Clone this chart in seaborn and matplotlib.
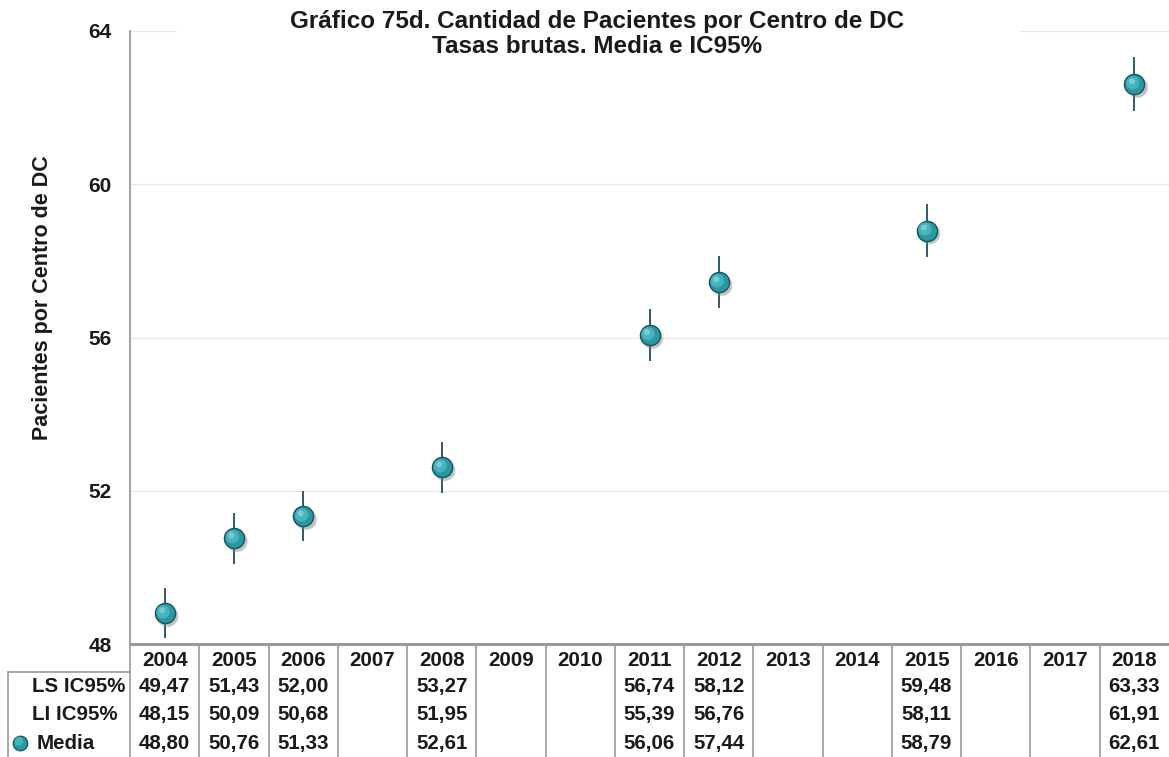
import numpy as np
import pandas as pd
import matplotlib
matplotlib.use("Agg")
import matplotlib.pyplot as plt
import matplotlib.transforms as mtransforms
from matplotlib.patches import Rectangle
import seaborn as sns

# ---- data ----
years = [2004, 2005, 2006, 2007, 2008, 2009, 2010, 2011, 2012, 2013, 2014, 2015, 2016, 2017, 2018]
media = [48.80, 50.76, 51.33, np.nan, 52.61, np.nan, np.nan, 56.06, 57.44, np.nan, np.nan, 58.79, np.nan, np.nan, 62.61]
ls_ic = [49.47, 51.43, 52.00, np.nan, 53.27, np.nan, np.nan, 56.74, 58.12, np.nan, np.nan, 59.48, np.nan, np.nan, 63.33]
li_ic = [48.15, 50.09, 50.68, np.nan, 51.95, np.nan, np.nan, 55.39, 56.76, np.nan, np.nan, 58.11, np.nan, np.nan, 61.91]
row_labels = ["LS IC95%", "LI IC95%", "Media"]
y_ticks = [48, 52, 56, 60, 64]
title = "Gráfico 75d. Cantidad de Pacientes por Centro de DC\nTasas brutas. Media e IC95%"
ylabel = "Pacientes por Centro de DC"

df = pd.DataFrame({"year": years, "media": media, "ls": ls_ic, "li": li_ic})
df["pos"] = np.arange(len(years))

sns.set_theme(style="white")
plt.rcParams["font.family"] = ["Liberation Sans", "DejaVu Sans"]
plt.rcParams["font.weight"] = "bold"

TXT = "#1a1a1a"
W, H = 1169, 757
fig = plt.figure(figsize=(W / 100, H / 100), dpi=100)
ax_l, ax_r, ax_t, ax_b = 130, 1169, 31, 644
ax = fig.add_axes([ax_l / W, 1 - ax_b / H, (ax_r - ax_l) / W, (ax_b - ax_t) / H])

ax.set_xlim(-0.5, len(years) - 0.5)
ax.set_ylim(48, 64)
ax.set_yticks(y_ticks)
ax.set_yticklabels([str(t) for t in y_ticks], fontsize=15, fontweight="bold", color=TXT)
ax.set_xticks([])
ax.tick_params(axis="y", length=0, pad=13)
for t in y_ticks[1:]:
    ax.axhline(t, color="#e9e9e9", lw=0.9, zorder=0)
for s in ["top", "right"]:
    ax.spines[s].set_visible(False)
ax.spines["left"].set_color("#9a9a9a")
ax.spines["left"].set_linewidth(1.3)
ax.spines["bottom"].set_color("#9a9a9a")
ax.spines["bottom"].set_linewidth(2.2)
ax.set_ylabel(ylabel, fontsize=15.5, fontweight="bold", color=TXT)
ax.yaxis.set_label_coords((53 - ax_l) / (ax_r - ax_l), (ax_b - 298) / (ax_b - ax_t))

# error bars
d = df.dropna()
ax.vlines(d["pos"], d["li"], d["ls"], color="#1d4f58", lw=1.3, zorder=3)

# shadow
shadow_tr = mtransforms.offset_copy(ax.transData, fig=fig, x=3, y=-3, units="dots")
sns.scatterplot(data=d, x="pos", y="media", s=250, color="#8a8a8a", alpha=0.25,
                edgecolor="none", ax=ax, zorder=4, legend=False, transform=shadow_tr)
sns.scatterplot(data=d, x="pos", y="media", s=210, color="#7a7a7a", alpha=0.3,
                edgecolor="none", ax=ax, zorder=4, legend=False, transform=shadow_tr)
# main sphere
sns.scatterplot(data=d, x="pos", y="media", s=210, color="#2a98a1",
                edgecolor="#16535b", linewidth=1.0, ax=ax, zorder=5, legend=False)
hl_tr = mtransforms.offset_copy(ax.transData, fig=fig, x=-1.5, y=1.5, units="dots")
sns.scatterplot(data=d, x="pos", y="media", s=90, color="#4cbcc5", alpha=0.8,
                edgecolor="none", ax=ax, zorder=6, legend=False, transform=hl_tr)
hl_tr2 = mtransforms.offset_copy(ax.transData, fig=fig, x=-2.5, y=3, units="dots")
sns.scatterplot(data=d, x="pos", y="media", s=18, color="#9adfe4", alpha=0.6,
                edgecolor="none", ax=ax, zorder=7, legend=False, transform=hl_tr2)
ax.set_xlabel("")

# ---- data table below ----
FS = 14.8
tr = mtransforms.blended_transform_factory(ax.transData, ax.transAxes)
axh = ax_b - ax_t
row_h = 28.3 / axh
line_col = "#9a9a9a"
tbl_bottom = -(H - ax_b) / axh - 0.01
for i, yr in enumerate(years):
    ax.text(i, -0.6 * row_h, str(yr), transform=tr, ha="center", va="center",
            fontsize=FS, fontweight="bold", color=TXT, clip_on=False)
    rows = [ls_ic[i], li_ic[i], media[i]]
    for r, v in enumerate(rows):
        if not np.isnan(v):
            ax.text(i, -(r + 1.5) * row_h, f"{v:.2f}".replace(".", ","), transform=tr,
                    ha="center", va="center", fontsize=FS, fontweight="bold",
                    color=TXT, clip_on=False)
for k in range(len(years)):
    ax.plot([k - 0.5, k - 0.5], [0, tbl_bottom], transform=tr, color=line_col,
            lw=1.2, clip_on=False)

# row label column
x_lab_left = (8 - ax_l) / (ax_r - ax_l)
ax.plot([x_lab_left, 0], [-row_h, -row_h], transform=ax.transAxes, color=line_col, lw=1.2, clip_on=False)
ax.plot([x_lab_left, x_lab_left], [-row_h, tbl_bottom], transform=ax.transAxes, color=line_col, lw=1.2, clip_on=False)
x_txt = (32 - ax_l) / (ax_r - ax_l)
for r, lab in enumerate(row_labels):
    xx = x_txt if r < 2 else (37 - ax_l) / (ax_r - ax_l)
    ax.text(xx, -(r + 1.5) * row_h, lab, transform=ax.transAxes, ha="left", va="center",
            fontsize=FS, fontweight="bold", color=TXT, clip_on=False)
# legend key sphere for Media
x_icon = (20 - ax_l) / (ax_r - ax_l)
ax.scatter([x_icon], [-3.5 * row_h], s=110, color="#2a98a1", edgecolor="#16535b",
           linewidth=0.9, transform=ax.transAxes, clip_on=False, zorder=5)
ax.scatter([x_icon - 0.001], [-3.5 * row_h + 0.003], s=40, color="#4cbcc5", alpha=0.8,
           edgecolor="none", transform=ax.transAxes, clip_on=False, zorder=6)

# title box
fig.patches.append(Rectangle((177 / W, 1 - 62 / H), (1020 - 177) / W, 62 / H,
                             transform=fig.transFigure, facecolor="white",
                             edgecolor="none", zorder=10))
fig.text(597 / W, 1 - 34 / H, title, ha="center", va="center", fontsize=17.5,
         fontweight="bold", color=TXT, linespacing=1.12, zorder=11)

fig.savefig("out.png", dpi=100, facecolor="white")
